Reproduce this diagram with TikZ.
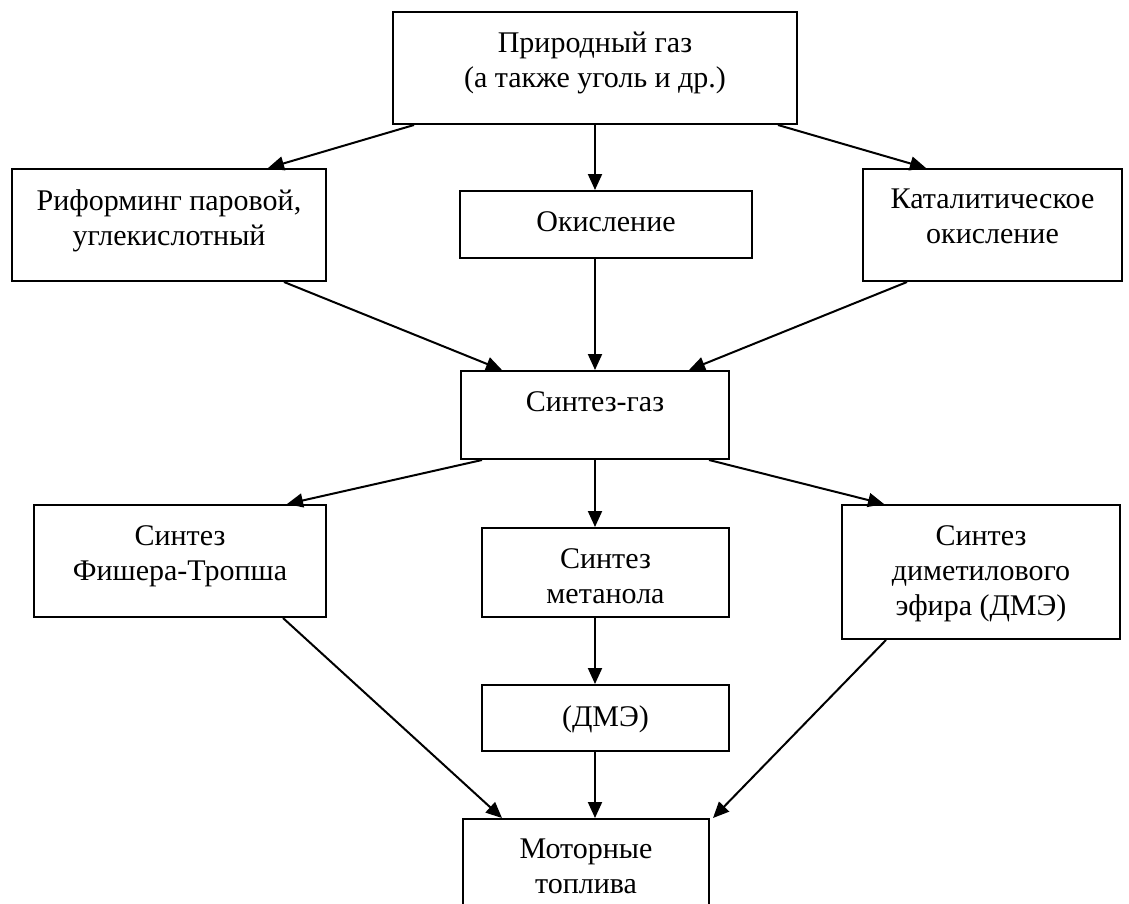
\documentclass[tikz,border=0pt]{standalone}
\usepackage{fontspec}
\setmainfont{Liberation Serif}
\usepackage{tikz}
\usetikzlibrary{arrows.meta}

\tikzset{
  box/.style={draw, line width=2pt, inner sep=0pt},
  txt/.style={anchor=north, yshift=-21pt, inner sep=0pt, align=center,
    font=\fontsize{30}{35}\selectfont},
  arr/.style={line width=2pt, -{Triangle[length=16pt, width=14pt]}}
}

\begin{document}
\begin{tikzpicture}[x=1pt, y=-1pt]
  \useasboundingbox (0,0) rectangle (1129,903);
  % sources and processing of the raw gas
  \node[box, minimum width=404pt, minimum height=112pt,
    label={[txt]north:{Природный газ\\(а также уголь и др.)}}] (gas) at (595,68) {};
  \node[box, minimum width=314pt, minimum height=112pt,
    label={[txt]north:{Риформинг паровой,\\углекислотный}}] (reform) at (169,225) {};
  \node[box, minimum width=292pt, minimum height=67pt,
    label={[txt]north:{Окисление}}] (oxid) at (606,224.5) {};
  \node[box, minimum width=259pt, minimum height=112pt,
    label={[txt]north:{Каталитическое\\окисление}}] (cat) at (992.5,225) {};
  \node[box, minimum width=268pt, minimum height=88pt,
    label={[txt]north:{Синтез-газ}}] (syn) at (595,415) {};
  % syntheses and the fuels
  \node[box, minimum width=292pt, minimum height=112pt,
    label={[txt]north:{Синтез\\Фишера-Тропша}}] (ft) at (180,561) {};
  \node[box, minimum width=247pt, minimum height=89pt,
    label={[txt]north:{Синтез\\метанола}}] (meth) at (605.5,572.5) {};
  \node[box, minimum width=278pt, minimum height=134pt,
    label={[txt]north:{Синтез\\диметилового\\эфира (ДМЭ)}}] (dme) at (981,572) {};
  \node[box, minimum width=247pt, minimum height=66pt,
    label={[txt]north:{(ДМЭ)}}] (dmeb) at (605.5,718) {};
  \node[box, minimum width=246pt, minimum height=112pt,
    label={[txt]north:{Моторные\\топлива}}] (fuel) at (586,875) {};

  \draw[arr] ([xshift=22pt]gas.south west) -- ([xshift=-59pt]reform.north east);
  \draw[arr] (gas.south) -- (gas.south |- oxid.north);
  \draw[arr] ([xshift=-20pt]gas.south east) -- ([xshift=64pt]cat.north west);
  \draw[arr] ([xshift=-43pt]reform.south east) -- ([xshift=42pt]syn.north west);
  \draw[arr] (syn.north |- oxid.south) -- (syn.north);
  \draw[arr] ([xshift=45pt]cat.south west) -- ([xshift=-41pt]syn.north east);
  \draw[arr] ([xshift=22pt]syn.south west) -- ([xshift=-40pt]ft.north east);
  \draw[arr] (syn.south) -- (syn.south |- meth.north);
  \draw[arr] ([xshift=-21pt]syn.south east) -- ([xshift=43pt]dme.north west);
  \draw[arr] (syn.south |- meth.south) -- (syn.south |- dmeb.north);
  \draw[arr] ([xshift=-44pt]ft.south east) -- ([xshift=40pt]fuel.north west);
  \draw[arr] (syn.south |- dmeb.south) -- (syn.south |- fuel.north);
  \draw[arr] ([xshift=45pt]dme.south west) -- ([xshift=3pt]fuel.north east);
\end{tikzpicture}
\end{document}
